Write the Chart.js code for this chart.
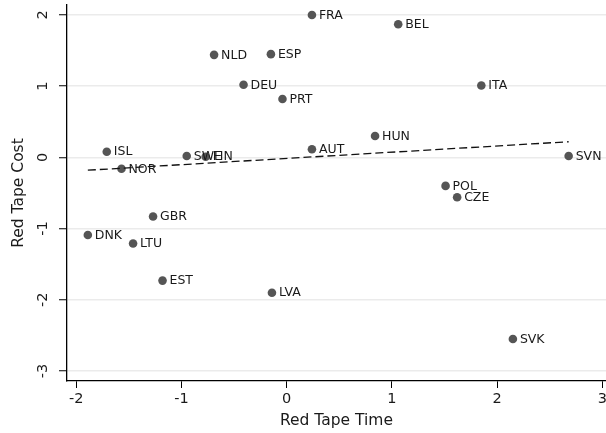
<!DOCTYPE html>
<html>
<head>
<meta charset="utf-8">
<script src="https://cdn.jsdelivr.net/npm/chart.js@4.4.1/dist/chart.umd.min.js"></script>
<style>
  html, body { margin: 0; padding: 0; background: #fff; }
  #wrap { width: 606px; height: 433px; }
</style>
</head>
<body>
<div id="wrap"><canvas id="redTape" width="606" height="433"></canvas></div>
<script>
const COUNTRIES = ["FRA", "BEL", "NLD", "ESP", "DEU", "PRT", "ITA", "HUN", "AUT", "SVN",
  "POL", "CZE", "SVK", "ISL", "NOR", "SWE", "FIN", "GBR", "DNK", "LTU", "EST", "LVA"];
const RED_TAPE_TIME = [0.24, 1.06, -0.69, -0.15, -0.41, -0.04, 1.85, 0.84, 0.24, 2.68,
  1.51, 1.62, 2.15, -1.71, -1.57, -0.95, -0.77, -1.27, -1.89, -1.46, -1.18, -0.14];
const RED_TAPE_COST = [2.00, 1.87, 1.44, 1.45, 1.02, 0.82, 1.01, 0.30, 0.115, 0.02,
  -0.40, -0.56, -2.55, 0.08, -0.16, 0.02, 0.01, -0.83, -1.09, -1.21, -1.73, -1.90];

// fitted line at both ends
const FIT_X = [-1.89, 2.68];
const FIT_Y = [-0.18, 0.22];

const X_TICKS = [-2, -1, 0, 1, 2, 3];
const Y_TICKS = [-3, -2, -1, 0, 1, 2];

const FONT = "'DejaVu Sans', sans-serif";

const points = RED_TAPE_TIME.map((x, i) => ({ x: x, y: RED_TAPE_COST[i], lbl: COUNTRIES[i] }));
const fitLine = FIT_X.map((x, i) => ({ x: x, y: FIT_Y[i] }));

// country names to the right of each dot + rotated y tick labels
const labelsPlugin = {
  id: "labelsPlugin",
  afterDatasetsDraw(chart) {
    const ctx = chart.ctx;
    const meta = chart.getDatasetMeta(1);
    ctx.save();
    ctx.font = "12.5px " + FONT;
    ctx.fillStyle = "#1a1a1a";
    ctx.textAlign = "left";
    ctx.textBaseline = "middle";
    meta.data.forEach((pt, i) => {
      ctx.fillText(points[i].lbl, pt.x + 7, pt.y + 0.5);
    });
    ctx.restore();
  },
  afterDraw(chart) {
    const ctx = chart.ctx;
    const yScale = chart.scales.y;
    ctx.save();
    ctx.font = "14.5px " + FONT;
    ctx.fillStyle = "#1a1a1a";
    ctx.textAlign = "center";
    ctx.textBaseline = "middle";
    Y_TICKS.forEach((v) => {
      const py = yScale.getPixelForValue(v);
      ctx.save();
      ctx.translate(43.5, py);
      ctx.rotate(-Math.PI / 2);
      ctx.fillText(String(v), 0, 0);
      ctx.restore();
    });
    ctx.restore();
  }
};

new Chart(document.getElementById("redTape"), {
  type: "scatter",
  data: {
    datasets: [
      {
        type: "line",
        label: "fit",
        data: fitLine,
        borderColor: "#111",
        borderWidth: 1.3,
        borderDash: [8, 4],
        pointRadius: 0,
        fill: false
      },
      {
        label: "countries",
        data: points,
        backgroundColor: "#555555",
        borderColor: "#555555",
        pointRadius: 4.3,
        pointBorderWidth: 0
      }
    ]
  },
  options: {
    responsive: false,
    animation: false,
    layout: { autoPadding: false, padding: { top: 5, right: 0, left: 0, bottom: 0 } },
    plugins: {
      legend: { display: false },
      tooltip: { enabled: false }
    },
    scales: {
      x: {
        type: "linear",
        min: -2.088,
        max: 3.035,
        afterFit(scale) {
          scale.height = 52;
          scale.paddingLeft = 0;
          scale.paddingRight = 0;
        },
        afterBuildTicks(scale) {
          scale.ticks = X_TICKS.map((v) => ({ value: v }));
        },
        ticks: {
          includeBounds: false,
          autoSkip: false,
          maxRotation: 0,
          padding: 3,
          color: "#1a1a1a",
          font: { family: FONT, size: 14.5 }
        },
        grid: {
          drawOnChartArea: false,
          tickColor: "#000",
          tickLength: 7,
          tickWidth: 1
        },
        border: { color: "#000", width: 1.3 },
        title: {
          display: true,
          text: "Red Tape Time",
          color: "#1a1a1a",
          font: { family: FONT, size: 15.5 },
          padding: { top: 0, bottom: 3 }
        }
      },
      y: {
        type: "linear",
        min: -3.14,
        max: 2.14,
        afterFit(scale) {
          scale.width = 67;
          scale.paddingTop = 0;
          scale.paddingBottom = 0;
        },
        afterBuildTicks(scale) {
          scale.ticks = Y_TICKS.map((v) => ({ value: v }));
        },
        ticks: { display: false, includeBounds: false },
        grid: {
          color: "#ebebeb",
          lineWidth: 1.5,
          tickColor: "#000",
          tickLength: 8,
          tickWidth: 1
        },
        border: { color: "#000", width: 1.3 },
        title: {
          display: true,
          text: "Red Tape Cost",
          color: "#1a1a1a",
          font: { family: FONT, size: 15.5 },
          padding: { top: 10, bottom: 0 }
        }
      }
    }
  },
  plugins: [labelsPlugin]
});
</script>
</body>
</html>
